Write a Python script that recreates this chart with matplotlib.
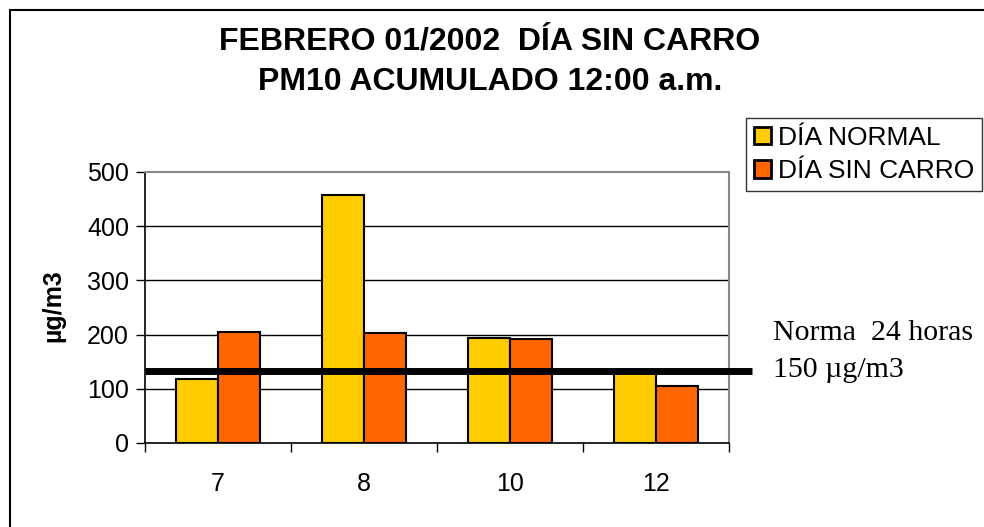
import matplotlib
matplotlib.use("Agg")
import matplotlib.pyplot as plt
import matplotlib.transforms as mtransforms
from matplotlib.patches import Rectangle
import numpy as np

categories = ["7", "8", "10", "12"]
dia_normal = [119, 457, 194, 130]
dia_sin_carro = [205, 203, 191, 106]
norma_value = 133
y_ticks = [0, 100, 200, 300, 400, 500]

W, H = 984, 527
fig = plt.figure(figsize=(W / 100, H / 100), dpi=100)
fig.patch.set_facecolor("white")

ax = fig.add_axes([145 / W, 1 - 443 / H, (729 - 145) / W, (443 - 172) / H])

x = np.arange(len(categories))
bw = 0.286
ax.bar(x - bw / 2, dia_normal, bw, color="#FFCC00", edgecolor="black", linewidth=1.5,
       label="DÍA NORMAL", zorder=3)
ax.bar(x + bw / 2, dia_sin_carro, bw, color="#FF6600", edgecolor="black", linewidth=1.5,
       label="DÍA SIN CARRO", zorder=3)

ax.set_xlim(-0.5, len(categories) - 0.5)
ax.set_ylim(0, 500)
ax.set_yticks(y_ticks)
ax.set_yticklabels([str(v) for v in y_ticks], fontsize=18, family="Liberation Sans")
ax.set_xticks(x)
ax.set_xticklabels(categories, fontsize=18, family="Liberation Sans")
ax.set_xticks(np.arange(-0.5, len(categories)), minor=True)
ax.tick_params(axis="x", which="major", length=0, pad=21)
ax.tick_params(axis="x", which="minor", length=6.5, width=1, color="black")
ax.tick_params(axis="y", which="major", length=6.5, width=1, pad=5)

for yv in y_ticks[1:-1]:
    ax.axhline(yv, color="black", linewidth=1, zorder=1)

for s in ["top", "right"]:
    ax.spines[s].set_color("#888888")
    ax.spines[s].set_linewidth(1.5)
for s in ["left", "bottom"]:
    ax.spines[s].set_color("black")
    ax.spines[s].set_linewidth(1.2)

# norm line extending past plot area
trans = mtransforms.blended_transform_factory(ax.transAxes, ax.transData)
ax.plot([0, (752 - 145) / (729 - 145)], [norma_value, norma_value], color="black",
        linewidth=5, transform=trans, clip_on=False, zorder=5, solid_capstyle="butt")

fig.text(53 / W, 1 - 306 / H, "µg/m3", rotation=90, ha="center", va="center",
         fontsize=18, fontweight="bold", family="Liberation Sans")

fig.text(490 / W, 1 - 42 / H, "FEBRERO 01/2002  DÍA SIN CARRO", ha="center", va="center",
         fontsize=23, fontweight="bold", family="Liberation Sans")
fig.text(490 / W, 1 - 82 / H, "PM10 ACUMULADO 12:00 a.m.", ha="center", va="center",
         fontsize=23, fontweight="bold", family="Liberation Sans")

fig.text(773 / W, 1 - 340 / H, "Norma  24 horas", ha="left", va="baseline",
         fontsize=21.5, family="Liberation Serif")
fig.text(773 / W, 1 - 377 / H, "150 µg/m3", ha="left", va="baseline",
         fontsize=21.5, family="Liberation Serif")

leg = fig.legend(loc="upper left", bbox_to_anchor=(746 / W, 1 - 118 / H),
                 prop={"family": "Liberation Sans", "size": 19}, frameon=True,
                 fancybox=False, edgecolor="black", handlelength=0.65, handleheight=0.65,
                 handletextpad=0.25, borderpad=0.3, labelspacing=0.35, borderaxespad=0)
leg.get_frame().set_linewidth(1)
for h in leg.legend_handles:
    h.set_linewidth(2)

fig.patches.append(Rectangle((10 / W, -0.1), 1.2, 1 - 10 / H + 0.1, transform=fig.transFigure,
                             fill=False, edgecolor="black", linewidth=1.5))

fig.savefig("out.png", dpi=100, facecolor="white")
